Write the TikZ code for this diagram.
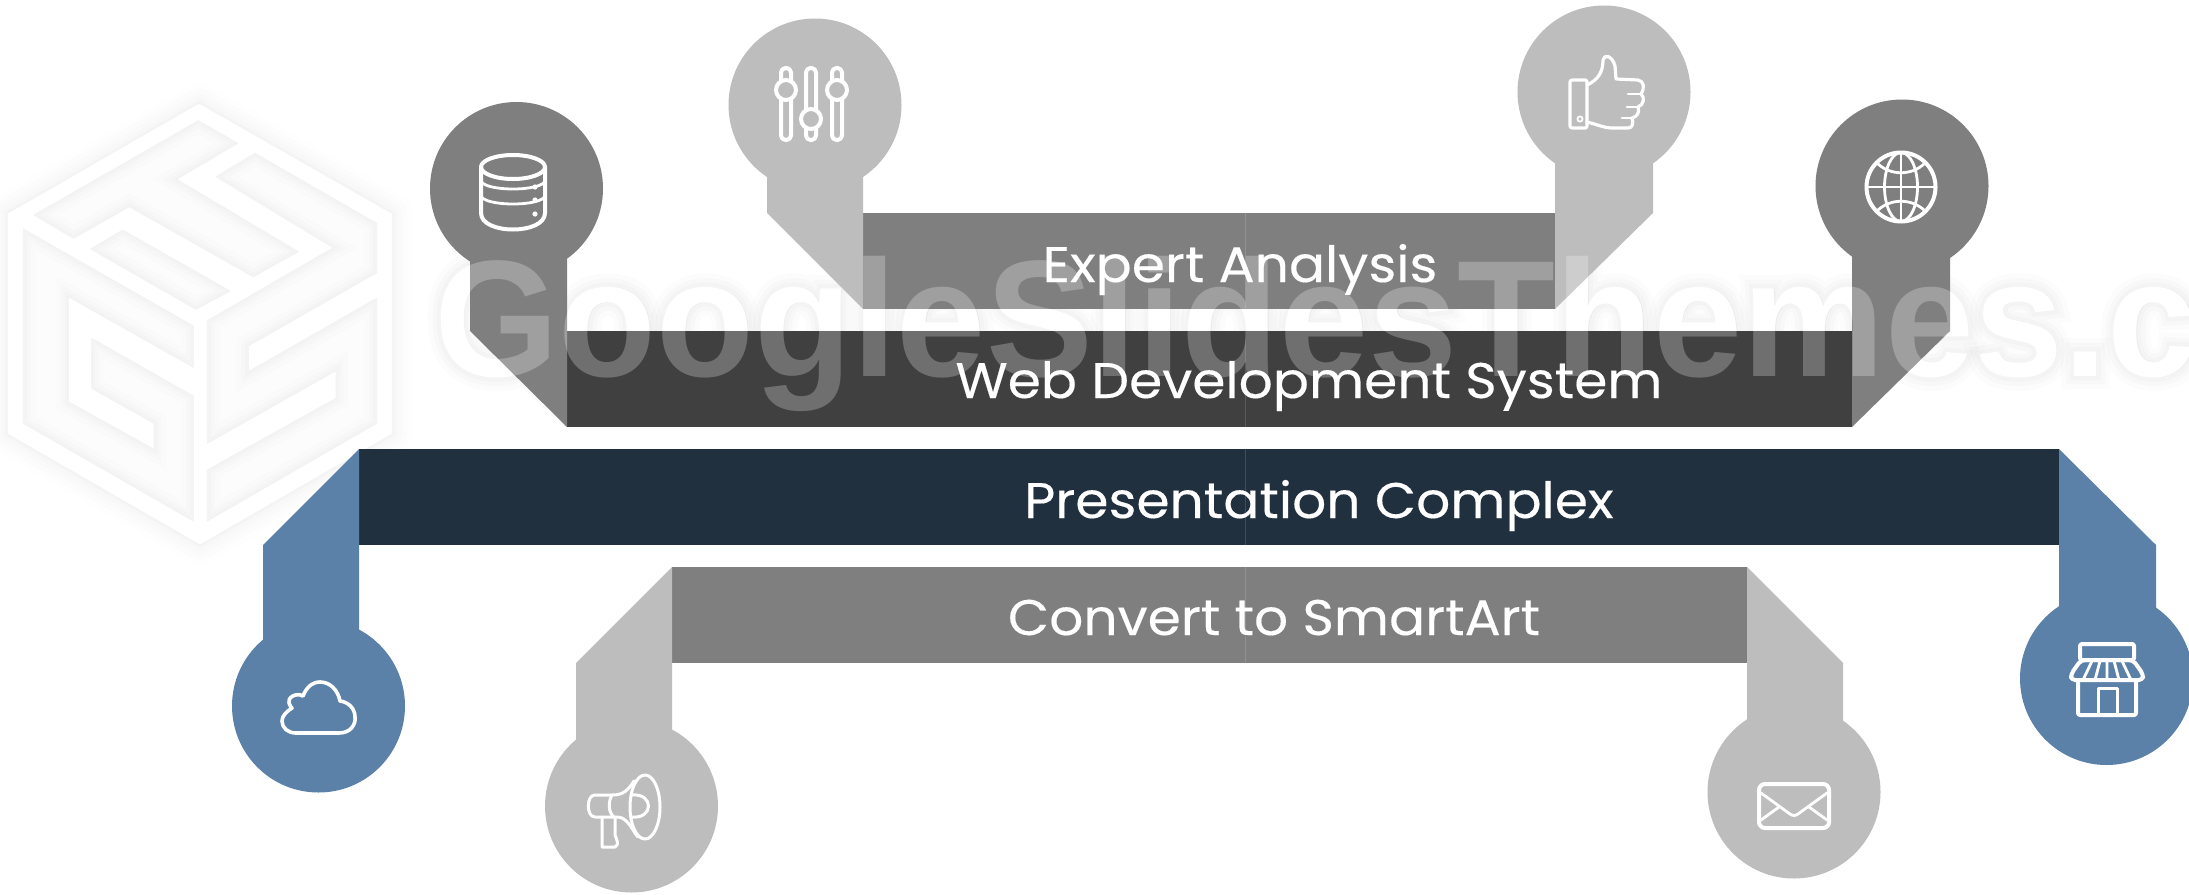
\documentclass[tikz,border=0pt]{standalone}
\usepackage{fontspec}
\newfontfamily\labelfont[FakeStretch=1.07,FakeBold=0.25]{Poppins}
\newfontfamily\wmfontb[UprightFont=* Bold,FakeStretch=.965]{Liberation Sans}
\newfontfamily\wmglowa[UprightFont=* Bold,FakeStretch=.965,FakeBold=5]{Liberation Sans}
\newfontfamily\wmglowb[UprightFont=* Bold,FakeStretch=.965,FakeBold=10]{Liberation Sans}
\newfontfamily\wmglowc[UprightFont=* Bold,FakeStretch=.965,FakeBold=16]{Liberation Sans}
\definecolor{navybar}{HTML}{21303F}
\definecolor{darkbar}{HTML}{404040}
\definecolor{midbar}{HTML}{7F7F7F}
\definecolor{lightgrey}{HTML}{BDBDBD}
\definecolor{steel}{HTML}{5C81A9}
\definecolor{logoface}{HTML}{FCFCFC}
\tikzset{
  barlabel/.style={text=white,anchor=base,inner sep=0pt,font=\labelfont\fontsize{50}{50}\selectfont},
  icon/.style={draw=white,line width=4pt,line cap=round,line join=round},
  iconthin/.style={draw=white,line width=2.8pt,line cap=round,line join=round},
  wmark/.style={anchor=base west,inner sep=0pt},
  seam/.style={draw=white,opacity=.14,line width=.8pt}
}
\newcommand{\wmtext}{GoogleSlidesThemes.c}
\newcommand{\logoface}[1]{%
  \begin{scope}
    \clip #1 -- cycle;
    \fill[logoface] #1 -- cycle;
    \draw[black,opacity=.008,line width=24pt] #1 -- cycle;
    \draw[black,opacity=.010,line width=14pt] #1 -- cycle;
    \draw[black,opacity=.012,line width=7pt] #1 -- cycle;
  \end{scope}
  \draw[black!5,line width=.7pt,line join=round] #1 -- cycle;
}
\newcommand{\bulb}[3]{\fill[#1] (#2) circle[radius=86.5pt]; \fill[#1] #3 -- cycle;}
\begin{document}
\begin{tikzpicture}[x=1pt,y=-1pt]
\useasboundingbox (0,0) rectangle (2189,894);
\fill[white] (0,0) rectangle (2189,894);
% logo: hexagon with soft halo
\def\hexpath{(199,103) -- (392.3,213.3) -- (392.3,434) -- (200,545) -- (7.3,434) -- (7.3,213.3)}
\foreach \w/\o in {40/.005,30/.006,20/.007,12/.008,5/.01}
  \draw[black,opacity=\o,line width=\w pt,line join=round] \hexpath -- cycle;
\fill[white] \hexpath -- cycle;
\draw[black!5,line width=.7pt] \hexpath -- cycle;
\logoface{(198.3,120.7) -- (237.7,143.3) -- (176.7,179.3) -- (298.3,251.7) -- (253.3,276.7) -- (129.3,206.7) -- (73.3,238.3) -- (34,215)}
\logoface{(122.7,230) -- (230,291) -- (196,309.3) -- (90.7,249)}
\logoface{(216,176.7) -- (255,153.3) -- (376.7,223.3) -- (376.7,272.7) -- (248.3,346) -- (248.3,371.7) -- (376.7,298.3) -- (376.7,423.3) -- (207.3,521) -- (207.3,470) -- (336,398.3) -- (336,370.7) -- (207.3,443.3) -- (207.3,320.7) -- (333.3,247.7)}
\logoface{(23.3,229) -- (193.3,326) -- (193.3,367.3) -- (68.3,296.7) -- (68.3,401.7) -- (154,449.3) -- (154,423.3) -- (91.7,388.3) -- (91.7,338.3) -- (193.3,396) -- (193.3,521) -- (23.3,423.3)}
% watermark: halo, then solid white (both under the bars)
\foreach \f/\o/\n in {\wmglowc/.012/a,\wmglowb/.014/b,\wmglowa/.016/c}
  \node[wmark,text=black,text opacity=\o] (halo\n) at (434,376) {\f\fontsize{166}{166}\selectfont\wmtext};
\node[wmark,text=white] (wmsolid) at (434,376) {\wmfontb\fontsize{166}{166}\selectfont\wmtext};
% bars
\fill[midbar] (863,213) rectangle (1555,309);
\fill[darkbar] (567,331) rectangle (1852,427);
\fill[navybar] (359,449) rectangle (2059,545);
\fill[midbar] (672,567) rectangle (1747,663);
\draw[seam] (1245.5,213) -- (1245.5,309) (1245.5,331) -- (1245.5,427) (1245.5,449) -- (1245.5,545) (1245.5,567) -- (1245.5,663);
% stems and discs
\bulb{lightgrey}{815,105}{(767,150) -- (863,150) -- (863,309) -- (767,213)}
\bulb{lightgrey}{1604,92}{(1555,140) -- (1653,140) -- (1653,213) -- (1555,309)}
\bulb{midbar}{516.5,188.5}{(470,230) -- (567,230) -- (567,427) -- (470,331)}
\bulb{midbar}{1902,186}{(1852,230) -- (1950,230) -- (1950,331) -- (1852,427)}
\bulb{steel}{318.5,706}{(359,449) -- (359,670) -- (263,670) -- (263,545)}
\bulb{steel}{2106.5,678.5}{(2059,449) -- (2156,545) -- (2156,640) -- (2059,640)}
\bulb{lightgrey}{631.5,806}{(672,567) -- (672,770) -- (576,770) -- (576,663)}
\bulb{lightgrey}{1794,792}{(1747,567) -- (1843,663) -- (1843,750) -- (1747,750)}
% watermark veil over the bars
\node[wmark,text=white,text opacity=.25] (wmveil) at (434,376) {\wmfontb\fontsize{166}{166}\selectfont\wmtext};
% labels
\node[barlabel] (expert) at (1240,282) {Expert Analysis};
\node[barlabel] (web) at (1309,398) {Web Development System};
\node[barlabel] (pres) at (1319,518) {Presentation Complex};
\node[barlabel] (conv) at (1274,635) {Convert to SmartArt};
% database icon
\draw[icon] (513,167) ellipse[x radius=32pt,y radius=12pt];
\draw[icon] (481,167) -- (481,213) .. controls (481,235) and (545,235) .. (545,213) -- (545,167);
\draw[iconthin] (481,180) .. controls (481,192) and (545,192) .. (545,180);
\draw[iconthin] (481,195) .. controls (481,207) and (545,207) .. (545,195);
\fill[white] (535,187) circle[radius=2.6pt] (535,200) circle[radius=2.6pt] (535,214) circle[radius=2.6pt];
% sliders icon
\draw[icon,rounded corners=4.5pt] (781,68) rectangle (791,140);
\draw[icon,rounded corners=4.5pt] (806,68) rectangle (816,140);
\draw[icon,rounded corners=4.5pt] (832,68) rectangle (842,140);
\draw[icon,fill=lightgrey] (786,90) circle[radius=10pt];
\draw[icon,fill=lightgrey] (811,119) circle[radius=10pt];
\draw[icon,fill=lightgrey] (837,90) circle[radius=10pt];
% thumb icon
\draw[iconthin,line width=3.2pt,rounded corners=2pt] (1570,80) rectangle (1587,128);
\draw[iconthin,line width=3.2pt] (1587,85) .. controls (1598,80) and (1603,72) .. (1603,60) .. controls (1604,54) and (1612,55) .. (1615,66) -- (1616,79) -- (1638,80) .. controls (1644,81) and (1645,88) .. (1641,94) .. controls (1645,97) and (1644,105) .. (1638,107) .. controls (1640,112) and (1637,117) .. (1632,118) .. controls (1634,124) and (1632,128) .. (1628,128) -- (1612,128) .. controls (1604,128) and (1596,124) .. (1587,122);
\draw[iconthin] (1628,94) -- (1641,94) (1627,107) -- (1638,107) (1622,118) -- (1632,118);
\draw[iconthin,line width=1.8pt] (1580,119) circle[radius=2.6pt];
% globe icon
\draw[icon] (1901,187) circle[radius=34.5pt];
\draw[iconthin] (1901,187) ellipse[x radius=16.5pt,y radius=34.5pt];
\draw[iconthin] (1901,152.5) -- (1901,221.5) (1866.5,187) -- (1935.5,187);
\draw[iconthin] (1877,163) .. controls (1890,176) and (1912,176) .. (1925,163);
\draw[iconthin] (1877,211) .. controls (1890,198) and (1912,198) .. (1925,211);
% store icon
\draw[icon,rounded corners=2pt] (2080,644) rectangle (2134,660);
\draw[icon,rounded corners=4pt] (2081,660) -- (2133,660) -- (2143,674) -- (2143,680) -- (2071,680) -- (2071,674) -- cycle;
\draw[iconthin] (2083,680) -- (2092,661) (2095,680) -- (2100,661) (2107,661) -- (2107,680) (2119,680) -- (2114,661) (2131,680) -- (2122,661);
\draw[icon,rounded corners=2pt] (2078,682) -- (2078,715) -- (2136,715) -- (2136,682);
\draw[iconthin,line width=3pt] (2098,715) -- (2098,688.5) -- (2117,688.5) -- (2117,715);
% envelope icon
\draw[icon,rounded corners=6pt] (1759,784) rectangle (1829,828);
\draw[iconthin] (1761,793) -- (1790,814) .. controls (1793,816) and (1795,816) .. (1798,814) -- (1827,793);
\draw[iconthin] (1761,820) -- (1779,807) (1827,820) -- (1809,807);
% cloud icon
\draw[icon,line width=3.6pt] (296,733) -- (339,733) .. controls (351,733) and (356,724) .. (355,717) .. controls (355,708) and (348,702) .. (340,701) .. controls (338,690) and (330,682) .. (320,682) .. controls (312,682) and (306,688) .. (303,696) .. controls (296,692) and (287,698) .. (289,703) .. controls (289,706) and (292,707) .. (292,708) .. controls (286,712) and (282,716) .. (282,721) .. controls (282,728) and (288,733) .. (296,733) -- cycle;
% megaphone icon
\draw[iconthin,line width=3pt] (645,807) ellipse[x radius=15pt,y radius=32pt];
\draw[iconthin,line width=3pt] (634,781) .. controls (628,790) and (624,795) .. (612,795) -- (595,795) .. controls (586,795) and (586,817) .. (595,817) -- (618,817) .. controls (628,818) and (632,830) .. (638,837);
\draw[iconthin,line width=3pt] (612,795) .. controls (608,802) and (608,812) .. (614,817);
\draw[iconthin,line width=3pt] (632,795) .. controls (654,793) and (654,819) .. (632,817);
\draw[iconthin,line width=3pt] (602,817) -- (602,847) -- (615,847) .. controls (620,845) and (616,838) .. (615,835) -- (615,818);
\end{tikzpicture}
\end{document}
